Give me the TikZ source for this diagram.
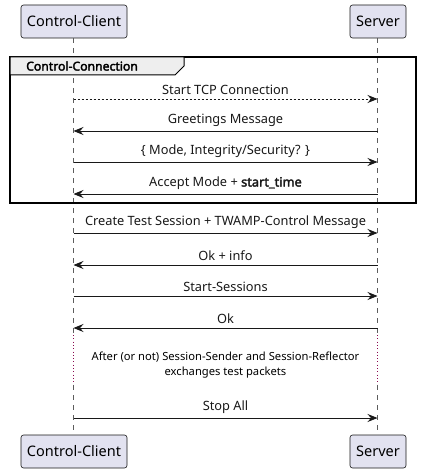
\documentclass[tikz,border=0pt]{standalone}
\usepackage{fontspec}
\setmainfont{Noto Sans}[BoldFont={Noto Sans},BoldFeatures={FakeBold=2.5}]
\usepackage{xcolor}
\definecolor{partfill}{HTML}{E2E2F0}
\definecolor{partline}{HTML}{181818}
\definecolor{grpfill}{HTML}{EEEEEE}
\definecolor{delayline}{HTML}{8B0A50}
\usetikzlibrary{arrows.meta}

\tikzset{
  part/.style={draw=partline,fill=partfill,rounded corners=2.5pt,line width=0.6pt,
    minimum height=33pt,inner sep=0pt,font=\fontsize{14.5}{16}\selectfont},
  life/.style={partline!70,line width=0.6pt,dash pattern=on 5pt off 5pt},
  msg/.style={partline,line width=0.8pt,-{Stealth[length=10pt,width=8pt,inset=3.5pt]}},
  lbl/.style={above,inner sep=0pt,yshift=4pt,font=\fontsize{12.8}{14}\selectfont}
}

\begin{document}
\begin{tikzpicture}[x=1pt,y=-1pt]
  \useasboundingbox (0,0) rectangle (421,473);

  % participants
  \node[part,minimum width=106pt](cc) at (74,21.5) {Control-Client};
  \node[part,minimum width=56pt](sv) at (378,21.5) {Server};
  \node[part,minimum width=106pt](ccb) at (74,451.5) {Control-Client};
  \node[part,minimum width=56pt](svb) at (378,451.5) {Server};

  % lifelines
  \coordinate (cd1) at (73.5,335);
  \coordinate (cd2) at (73.5,385);
  \coordinate (sd1) at (377.5,335);
  \coordinate (sd2) at (377.5,385);
  \draw[life] (cc.south -| cd1) -- (cd1);
  \draw[life] (sv.south -| sd1) -- (sd1);
  \draw[delayline,line width=0.8pt,dash pattern=on 0.8pt off 2.5pt] (cd1) -- (cd2);
  \draw[delayline,line width=0.8pt,dash pattern=on 0.8pt off 2.5pt] (sd1) -- (sd2);
  \draw[life] (cd2) -- (ccb.north -| cd2);
  \draw[life] (sd2) -- (svb.north -| sd2);

  % group
  \draw[line width=1.5pt] (10,57) rectangle (416,203);
  \draw[line width=1pt,fill=grpfill] (10,57) -- (184,57) -- (184,66) -- (175,75) -- (10,75) -- cycle;
  \node[anchor=west,inner sep=0pt,font=\bfseries\fontsize{12.2}{14}\selectfont](grp) at (26,66) {Control-Connection};

  % messages
  \coordinate (c1) at (73.5,99);  \coordinate (s1) at (377.5,99);
  \coordinate (c2) at (73.5,131); \coordinate (s2) at (377.5,131);
  \coordinate (c3) at (73.5,162); \coordinate (s3) at (377.5,162);
  \coordinate (c4) at (73.5,194); \coordinate (s4) at (377.5,194);
  \coordinate (c5) at (73.5,233); \coordinate (s5) at (377.5,233);
  \coordinate (c6) at (73.5,265); \coordinate (s6) at (377.5,265);
  \coordinate (c7) at (73.5,296); \coordinate (s7) at (377.5,296);
  \coordinate (c8) at (73.5,328); \coordinate (s8) at (377.5,328);
  \coordinate (c9) at (73.5,418); \coordinate (s9) at (377.5,418);

  \draw[msg,dash pattern=on 2pt off 2pt] (c1) -- node[lbl](m1) {Start TCP Connection} (s1);
  \draw[msg] (s2) -- node[lbl](m2) {Greetings Message} (c2);
  \draw[msg] (c3) -- node[lbl](m3) {\{ Mode, Integrity/Security? \}} (s3);
  \draw[msg] (s4) -- node[lbl](m4) {Accept Mode + \textbf{start\_time}} (c4);
  \draw[msg] (c5) -- node[lbl](m5) {Create Test Session + TWAMP-Control Message} (s5);
  \draw[msg] (s6) -- node[lbl](m6) {Ok + info} (c6);
  \draw[msg] (c7) -- node[lbl](m7) {Start-Sessions} (s7);
  \draw[msg] (s8) -- node[lbl](m8) {Ok} (c8);
  \draw[msg] (c9) -- node[lbl](m9) {Stop All} (s9);

  % delay
  \node[align=center,inner sep=0pt,font=\fontsize{11.2}{15}\selectfont](dl) at (225.5,365.5)
    {After (or not) Session-Sender and Session-Reflector\\exchanges test packets};
\end{tikzpicture}
\end{document}
